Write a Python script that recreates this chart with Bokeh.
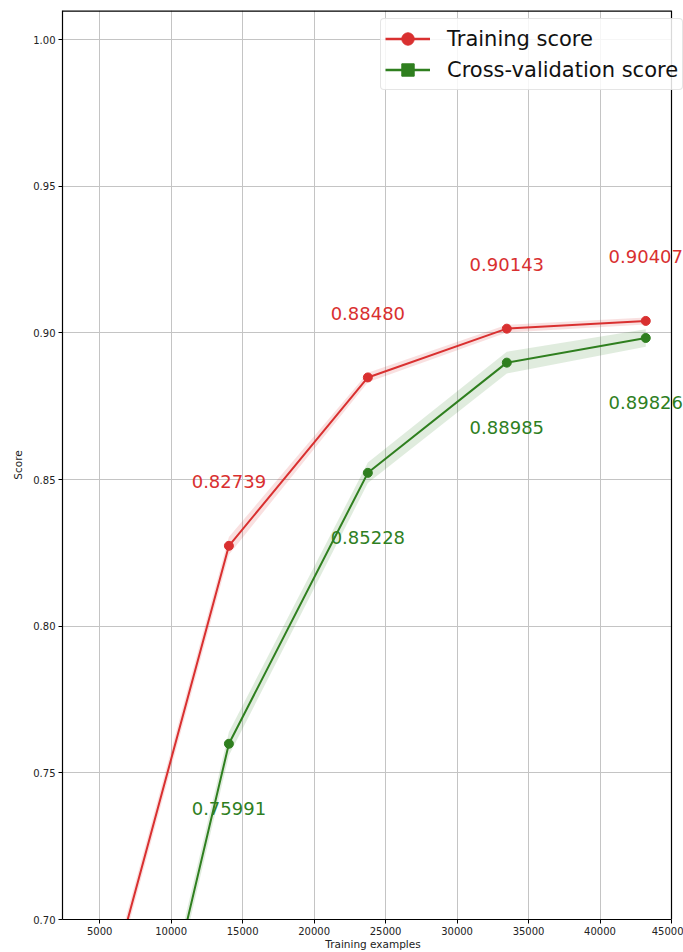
from bokeh.plotting import figure
from bokeh.models import (FixedTicker, NumeralTickFormatter, Legend, LegendItem,
                          ColumnDataSource, Range1d, Span)
from bokeh.core.properties import value
from bokeh.embed import file_html
from bokeh.resources import INLINE

# ---- data ----
train_sizes = [4320, 14040, 23760, 33480, 43200]
train_mean = [0.6525, 0.82739, 0.88480, 0.90143, 0.90407]
train_std = [0.0030, 0.0030, 0.0016, 0.0013, 0.0012]
cv_mean = [0.5590, 0.75991, 0.85228, 0.88985, 0.89826]
cv_std = [0.0040, 0.0040, 0.0035, 0.0037, 0.0030]
label_idx = [1, 2, 3, 4]
x_ticks = [5000, 10000, 15000, 20000, 25000, 30000, 35000, 40000, 45000]
y_ticks = [0.70, 0.75, 0.80, 0.85, 0.90, 0.95, 1.00]
x_min, x_max = 2400, 45000
y_min, y_max = 0.70, 1.0099

RED = "#d93030"
GREEN = "#2f7f1f"
FONT = "DejaVu Sans"

# the frame runs a bit past the right axis border (x_max) so that texts
# that cross the border are not clipped, like in the reference
FRAME_W = 621
AXES_W = 609
x_view_end = x_min + (x_max - x_min) * FRAME_W / AXES_W

p = figure(frame_width=FRAME_W, frame_height=909,
           x_range=Range1d(x_min, x_view_end), y_range=Range1d(y_min, y_max),
           output_backend="svg", toolbar_location=None,
           min_border_left=62, min_border_right=0, min_border_top=10,
           min_border_bottom=0)
p.background_fill_color = "white"
p.border_fill_color = "white"
p.outline_line_color = None

# axes
for ax in (p.xaxis[0], p.yaxis[0]):
    ax.axis_line_color = "black"
    ax.axis_line_width = 1.2
    ax.major_tick_line_color = "black"
    ax.major_tick_in = 0
    ax.major_tick_out = 4
    ax.minor_tick_line_color = None
    ax.major_label_text_font = FONT
    ax.major_label_text_font_size = "10px"
    ax.major_label_text_color = "#222222"
    ax.axis_label_text_font = FONT
    ax.axis_label_text_font_size = "10.5px"
    ax.axis_label_text_font_style = "normal"
    ax.axis_label_text_color = "#222222"

p.xaxis.ticker = FixedTicker(ticks=x_ticks)
p.yaxis.ticker = FixedTicker(ticks=y_ticks)
p.xaxis.formatter = NumeralTickFormatter(format="0")
p.yaxis.formatter = NumeralTickFormatter(format="0.00")
p.xaxis.bounds = (x_min, x_max)
p.xaxis.axis_label = "Training examples"
p.yaxis.axis_label = "Score"
p.xaxis.major_label_standoff = 3
p.xaxis.axis_label_standoff = 0
p.yaxis.major_label_standoff = 3
p.yaxis.axis_label_standoff = 6

p.grid.grid_line_color = "#c4c4c4"
p.grid.grid_line_width = 1

# white strip beyond the right border (hides grid lines there)
p.quad(left=[x_max], right=[x_view_end * 1.05], bottom=[y_min - 0.1],
       top=[y_max + 0.1], fill_color="white", line_color=None)

# bands
tr_lo = [m - s for m, s in zip(train_mean, train_std)]
tr_hi = [m + s for m, s in zip(train_mean, train_std)]
cv_lo = [m - s for m, s in zip(cv_mean, cv_std)]
cv_hi = [m + s for m, s in zip(cv_mean, cv_std)]
p.varea(x=train_sizes, y1=tr_lo, y2=tr_hi, fill_color=RED, fill_alpha=0.15)
p.varea(x=train_sizes, y1=cv_lo, y2=cv_hi, fill_color=GREEN, fill_alpha=0.15)

# lines + markers
p.line(train_sizes, train_mean, line_color=RED, line_width=2)
p.scatter(train_sizes, train_mean, marker="circle", size=9,
          fill_color=RED, line_color=RED)
p.line(train_sizes, cv_mean, line_color=GREEN, line_width=2)
p.scatter(train_sizes, cv_mean, marker="circle", size=9,
          fill_color=GREEN, line_color=GREEN)

# axes box: top and right borders
p.line([x_min, x_max], [y_max, y_max], line_color="black", line_width=2.4)
p.add_layout(Span(location=x_max, dimension="height", line_color="black",
                  line_width=1.2))

# value labels
tr_src = ColumnDataSource(dict(
    x=[train_sizes[i] for i in label_idx],
    y=[train_mean[i] for i in label_idx],
    t=["%.5f" % train_mean[i] for i in label_idx]))
cv_src = ColumnDataSource(dict(
    x=[train_sizes[i] for i in label_idx],
    y=[cv_mean[i] for i in label_idx],
    t=["%.5f" % cv_mean[i] for i in label_idx]))
p.text(x="x", y="y", text="t", source=tr_src, y_offset=-64,
       text_align="center", text_baseline="middle",
       text_font=value(FONT), text_font_size="18px", text_color=RED)
p.text(x="x", y="y", text="t", source=cv_src, y_offset=65,
       text_align="center", text_baseline="middle",
       text_font=value(FONT), text_font_size="18px", text_color=GREEN)

# legend (proxy renderers placed outside the visible range)
px, py = [-100000], [0.0]
lg_r_line = p.line(px, py, line_color=RED, line_width=2.5)
lg_r_mark = p.scatter(px, py, marker="circle", fill_color=RED,
                      line_color=RED)
lg_g_line = p.line(px, py, line_color=GREEN, line_width=2.5)
lg_g_mark = p.scatter(px, py, marker="square", fill_color=GREEN,
                      line_color=GREEN)
legend = Legend(items=[
    LegendItem(label="Training score", renderers=[lg_r_line, lg_r_mark]),
    LegendItem(label="Cross-validation score", renderers=[lg_g_line, lg_g_mark]),
], location=(318, 829))
legend.margin = 0
legend.padding = 4
legend.spacing = 0
legend.glyph_width = 45
legend.glyph_height = 31
legend.label_height = 31
legend.label_standoff = 17
legend.label_text_font = FONT
legend.label_text_font_size = "21px"
legend.label_text_color = "#111111"
legend.border_line_color = "#cccccc"
legend.border_line_width = 1
legend.border_radius = 4
legend.background_fill_alpha = 0.85
p.add_layout(legend, "center")

open("out.html", "w").write(file_html(p, INLINE))
